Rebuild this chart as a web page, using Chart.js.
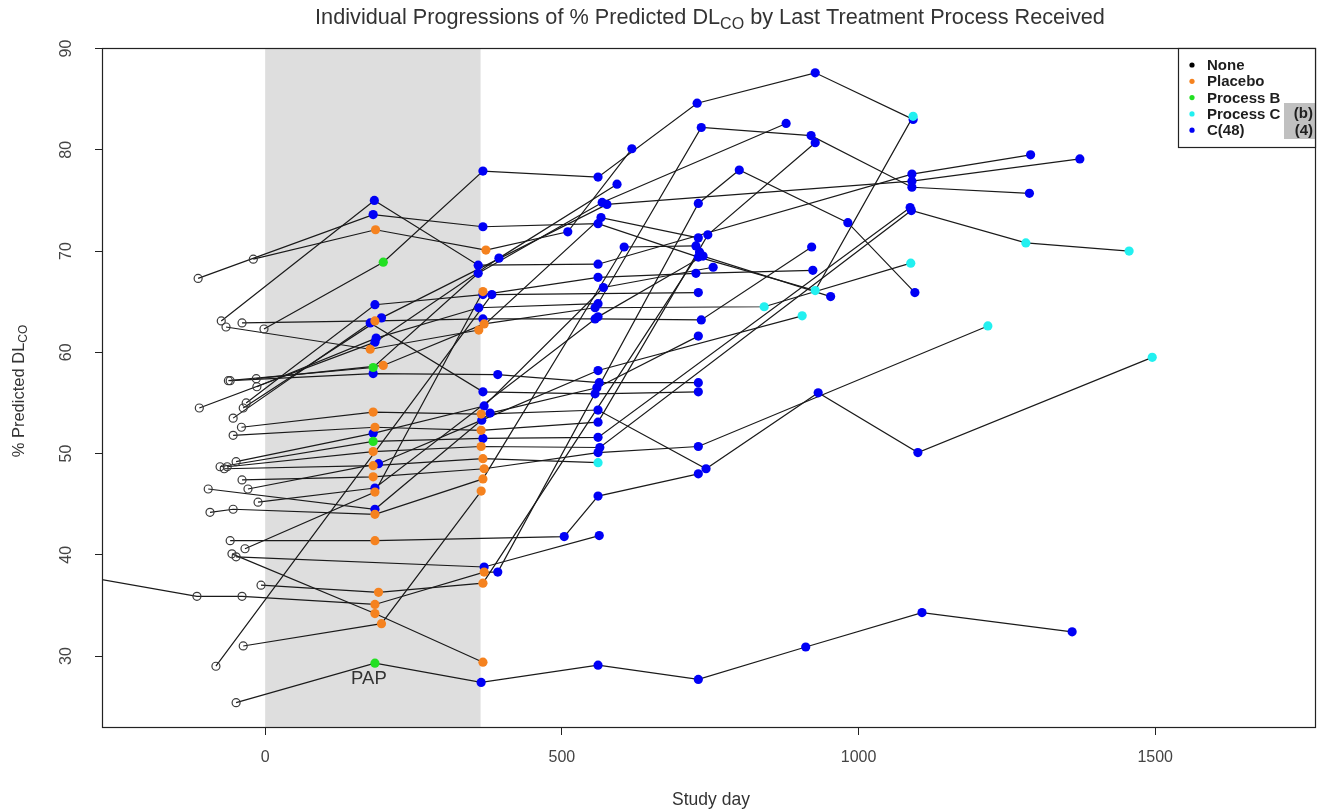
<!DOCTYPE html>
<html>
<head>
<meta charset="utf-8">
<script src="https://cdn.jsdelivr.net/npm/chart.js@4.4.1/dist/chart.umd.min.js"></script>
<style>
html,body{margin:0;padding:0;background:#fff;}
#wrap{width:1324px;height:811px;position:relative;}
</style>
</head>
<body>
<div id="wrap"><canvas id="c" width="1324" height="811"></canvas></div>
<script>
// Treatment groups (last process received) and their marker colours
const groupNames  = ['None', 'Placebo', 'Process B', 'Process C', 'C(48)'];
const groupCodes  = ['N', 'P', 'B', 'C', 'D'];
const groupColors = ['#000000', '#f5821f', '#22e022', '#22f0f0', '#0000f5'];

const xTicks = [0, 500, 1000, 1500];
const yTicks = [30, 40, 50, 60, 70, 80, 90];
const shadedDays = [0, 363];
const noteText = 'PAP';
const notePoint = [185, 29.3];
const boxLabels = ['(b)', '(4)'];

// One array per subject: [study day, % predicted DLCO, last process code]
const s01 = [[-113,67.3,'N'],[182,73.6,'D'],[367,72.4,'D'],[561,72.7,'D'],[730,69.4,'D'],[927,66.1,'C'],[1092,83.3,'C']];
const s02 = [[-2,62.3,'N'],[199,68.9,'B'],[367,77.9,'D'],[561,77.3,'D'],[728,84.6,'D'],[927,87.6,'D'],[1092,83.0,'D']];
const s03 = [[-20,69.2,'N'],[186,72.1,'P'],[372,70.1,'P'],[510,71.9,'D'],[618,80.1,'D']];
const s04 = [[-74,63.1,'N'],[184,75.0,'D'],[359,68.6,'D'],[561,68.7,'D'],[1090,77.6,'D'],[1290,79.5,'D']];
const s05 = [[-66,62.5,'N'],[177,60.3,'P'],[360,62.2,'P'],[566,73.3,'D'],[730,71.3,'D']];
const s06 = [[-39,62.9,'N'],[185,63.1,'P'],[367,63.3,'D'],[556,63.3,'D'],[735,63.2,'D'],[921,70.4,'D']];
const s07 = [[-59,57.2,'N'],[182,57.9,'D'],[392,57.8,'D'],[563,57.0,'D'],[730,57.0,'D']];
const s08 = [[-62,57.2,'N'],[182,58.5,'B'],[359,67.8,'D'],[568,74.8,'D'],[878,82.6,'D']];
const s09 = [[-15,57.4,'N'],[199,58.7,'P'],[369,62.8,'P'],[556,64.4,'D'],[841,64.5,'C'],[1088,68.8,'C']];
const s10 = [[-14,56.6,'N'],[187,61.4,'D'],[360,64.4,'D'],[561,64.8,'D'],[735,82.2,'D'],[920,81.4,'D'],[1090,76.3,'D'],[1288,75.7,'D']];
const s11 = [[-111,54.5,'N'],[185,61.0,'D'],[394,69.3,'D'],[593,76.6,'D']];
const s12 = [[-32,55.0,'N'],[185,64.7,'D'],[367,65.7,'D'],[561,67.4,'D'],[726,67.8,'D'],[923,68.1,'D']];
const s13 = [[-37,54.5,'N'],[196,63.4,'D'],[576,74.6,'D'],[1090,76.9,'D'],[1373,79.1,'D']];
const s14 = [[-54,53.5,'N'],[177,62.9,'D'],[367,56.1,'D'],[556,55.9,'D'],[730,56.1,'D']];
const s15 = [[-40,52.6,'N'],[182,54.1,'P'],[364,53.9,'P'],[561,54.3,'D'],[743,48.5,'D'],[932,56.0,'D'],[1100,50.1,'D'],[1495,59.5,'C']];
const s16 = [[-54,51.8,'N'],[185,52.6,'P'],[364,52.3,'P'],[561,53.1,'D'],[746,71.6,'D'],[927,80.7,'D']];
const s17 = [[-49,49.2,'N'],[182,52.0,'D'],[369,54.7,'D'],[570,66.4,'D'],[755,68.4,'D']];
const s18 = [[-76,48.7,'N'],[182,51.2,'B'],[367,51.5,'D'],[561,51.6,'D'],[1087,74.3,'D']];
const s19 = [[-64,48.7,'N'],[182,50.2,'P'],[364,50.7,'P'],[564,50.6,'D'],[1089,74.0,'D'],[1282,70.8,'C'],[1456,70.0,'C']];
const s20 = [[-69,48.5,'N'],[182,48.8,'P'],[367,49.5,'P'],[561,49.1,'C']];
const s21 = [[-96,46.5,'N'],[185,44.5,'D'],[379,54.0,'D'],[559,56.5,'D'],[730,61.6,'D']];
const s22 = [[-29,46.5,'N'],[191,49.0,'D'],[365,53.3,'D'],[561,58.2,'D'],[905,63.6,'C']];
const s23 = [[-39,47.4,'N'],[182,47.7,'P'],[369,48.5,'P'],[561,50.1,'D'],[730,50.7,'D'],[1218,62.6,'C']];
const s24 = [[-12,45.2,'N'],[185,46.6,'D'],[561,63.5,'D'],[738,69.5,'D'],[953,65.5,'D']];
const s25 = [[-93,44.2,'N'],[-54,44.5,'N'],[185,44.0,'P'],[367,47.5,'P'],[605,70.4,'D'],[726,70.5,'D']];
const s26 = [[-34,40.6,'N'],[185,46.2,'P'],[367,66.0,'P']];
const s27 = [[-59,41.4,'N'],[185,41.4,'P'],[504,41.8,'D'],[561,45.8,'D'],[730,48.0,'D']];
const s28 = [[-56,40.1,'N'],[185,34.2,'P'],[367,29.4,'P']];
const s29 = [[-49,39.8,'N'],[369,38.8,'D'],[563,41.9,'D']];
const s30 = [[-300,37.8,'N'],[-115,35.9,'N'],[-39,35.9,'N'],[185,35.1,'P'],[369,38.3,'P'],[392,38.3,'D'],[730,74.7,'D'],[799,78.0,'D'],[982,72.8,'D'],[1095,65.9,'D']];
const s31 = [[-7,37.0,'N'],[191,36.3,'P'],[367,37.2,'P'],[732,69.9,'D']];
const s32 = [[-37,31.0,'N'],[196,33.2,'P'],[364,46.3,'P']];
const s33 = [[-83,29.0,'N'],[382,65.7,'D'],[730,65.9,'D']];
const s34 = [[-49,25.4,'N'],[185,29.3,'B'],[364,27.4,'D'],[561,29.1,'D'],[730,27.7,'D'],[911,30.9,'D'],[1107,34.3,'D'],[1360,32.4,'D']];

const subjects = [s01,s02,s03,s04,s05,s06,s07,s08,s09,s10,s11,s12,s13,s14,s15,s16,s17,
                  s18,s19,s20,s21,s22,s23,s24,s25,s26,s27,s28,s29,s30,s31,s32,s33,s34];

const FONT = '"Liberation Sans", Arial, Helvetica, sans-serif';

// Connecting line per subject (drawn beneath the markers)
const lineSets = subjects.map(s => ({
  data: s.map(p => ({x: p[0], y: p[1]})),
  showLine: true,
  borderColor: '#1a1a1a',
  borderWidth: 1.2,
  pointRadius: 0,
  pointHoverRadius: 0,
  tension: 0,
  order: 2
}));

// Markers grouped by treatment
const pointSets = groupCodes.map((code, gi) => {
  const pts = [];
  subjects.forEach(s => s.forEach(p => { if (p[2] === code) pts.push({x: p[0], y: p[1]}); }));
  const open = code === 'N';
  return {
    label: groupNames[gi],
    data: pts,
    showLine: false,
    pointStyle: 'circle',
    pointRadius: open ? 4 : 4.6,
    pointHoverRadius: open ? 4 : 4.6,
    pointBackgroundColor: open ? 'rgba(0,0,0,0)' : groupColors[gi],
    pointBorderColor: open ? '#3a3a3a' : groupColors[gi],
    pointBorderWidth: open ? 1.2 : 0,
    order: 1
  };
});

function drawRich(ctx, parts, x, y, size, color, weight) {
  // parts: [{t, sub}] drawn centred on x, vertical middle at y
  ctx.save();
  ctx.fillStyle = color;
  ctx.textBaseline = 'middle';
  ctx.textAlign = 'left';
  const w = weight ? weight + ' ' : '';
  const subSize = Math.round(size * 0.72);
  let total = 0;
  parts.forEach(p => {
    ctx.font = w + (p.sub ? subSize : size) + 'px ' + FONT;
    p.w = ctx.measureText(p.t).width;
    total += p.w;
  });
  let cx = x - total / 2;
  parts.forEach(p => {
    ctx.font = w + (p.sub ? subSize : size) + 'px ' + FONT;
    ctx.fillText(p.t, cx, p.sub ? y + size * 0.3 : y);
    cx += p.w;
  });
  ctx.restore();
}

const decor = {
  id: 'decor',
  beforeDatasetsDraw(chart) {
    const {ctx, chartArea: a, scales: {x}} = chart;
    const x0 = x.getPixelForValue(shadedDays[0]);
    const x1 = x.getPixelForValue(shadedDays[1]);
    ctx.save();
    ctx.fillStyle = '#dedede';
    ctx.fillRect(x0, a.top, x1 - x0, a.bottom - a.top);
    ctx.restore();
  },
  afterDraw(chart) {
    const {ctx, chartArea: a, scales: {x, y}} = chart;
    ctx.save();
    // plot frame
    ctx.strokeStyle = '#222';
    ctx.lineWidth = 1.2;
    ctx.strokeRect(a.left + 0.5, a.top + 0.5, a.right - a.left - 1, a.bottom - a.top - 1);

    // y tick labels, rotated like the axis title
    ctx.fillStyle = '#444';
    ctx.font = '16px ' + FONT;
    ctx.textAlign = 'center';
    ctx.textBaseline = 'middle';
    y.ticks.forEach(t => {
      const py = y.getPixelForValue(t.value);
      ctx.save();
      ctx.translate(a.left - 35, py);
      ctx.rotate(-Math.PI / 2);
      ctx.fillText(String(t.value), 0, 0);
      ctx.restore();
    });

    // title
    drawRich(ctx, [
      {t: 'Individual Progressions of % Predicted DL'},
      {t: 'CO', sub: true},
      {t: ' by Last Treatment Process Received'}
    ], 710, 18, 21.7, '#333');

    // axis titles
    drawRich(ctx, [{t: 'Study day'}], 711, 800, 17.5, '#333');
    ctx.save();
    ctx.translate(19, 391);
    ctx.rotate(-Math.PI / 2);
    drawRich(ctx, [{t: '% Predicted DL'}, {t: 'CO', sub: true}], 0, 0, 16.5, '#333');
    ctx.restore();

    // annotation under the Process B marker
    const nx = x.getPixelForValue(notePoint[0]);
    const ny = y.getPixelForValue(notePoint[1]);
    drawRich(ctx, [{t: noteText}], nx - 6, ny + 16, 18.5, '#333');

    // legend box
    const lx = 1178, ly = a.top, lw = a.right - lx, lh = 99;
    ctx.fillStyle = '#fff';
    ctx.fillRect(lx, ly, lw, lh);
    ctx.fillStyle = '#c0c0c0';
    ctx.fillRect(1284, ly + 55, a.right - 1284, 36);
    ctx.strokeStyle = '#222';
    ctx.lineWidth = 1.2;
    ctx.strokeRect(lx + 0.5, ly + 0.5, lw - 1, lh);
    groupNames.forEach((name, i) => {
      const ry = ly + 17 + i * 16.3;
      ctx.beginPath();
      ctx.arc(lx + 14, ry, 2.6, 0, Math.PI * 2);
      ctx.fillStyle = groupColors[i];
      ctx.fill();
      ctx.fillStyle = '#1e1e1e';
      ctx.font = 'bold 15px ' + FONT;
      ctx.textAlign = 'left';
      ctx.textBaseline = 'middle';
      ctx.fillText(name, lx + 29, ry + 1);
    });
    ctx.fillStyle = '#1e1e1e';
    ctx.font = 'bold 15px ' + FONT;
    ctx.textAlign = 'right';
    boxLabels.forEach((t, i) => ctx.fillText(t, a.right - 3, ly + 66 + i * 16.5));
    ctx.restore();
  }
};

new Chart(document.getElementById('c').getContext('2d'), {
  type: 'scatter',
  data: {datasets: [...pointSets, ...lineSets]},
  options: {
    responsive: false,
    animation: false,
    devicePixelRatio: 1,
    events: [],
    layout: {padding: {top: 48, right: 8, left: 0, bottom: 0}},
    plugins: {legend: {display: false}, tooltip: {enabled: false}, title: {display: false}},
    scales: {
      x: {
        type: 'linear', min: -275, max: 1771,
        afterBuildTicks: s => { s.ticks = xTicks.map(v => ({value: v})); },
        afterFit: s => { s.height = 83; },
        grid: {drawOnChartArea: false, tickLength: 7, color: '#222'},
        border: {display: false},
        ticks: {font: {size: 16, family: FONT}, color: '#444', padding: 13, maxRotation: 0, autoSkip: false,
                callback: v => String(v)}
      },
      y: {
        type: 'linear', min: 22.9, max: 90.05,
        afterBuildTicks: s => { s.ticks = yTicks.map(v => ({value: v})); },
        afterFit: s => { s.width = 102; },
        grid: {drawOnChartArea: false, tickLength: 7, color: '#222'},
        border: {display: false},
        ticks: {font: {size: 16, family: FONT}, color: 'rgba(0,0,0,0)', autoSkip: false}
      }
    }
  },
  plugins: [decor]
});
</script>
</body>
</html>
